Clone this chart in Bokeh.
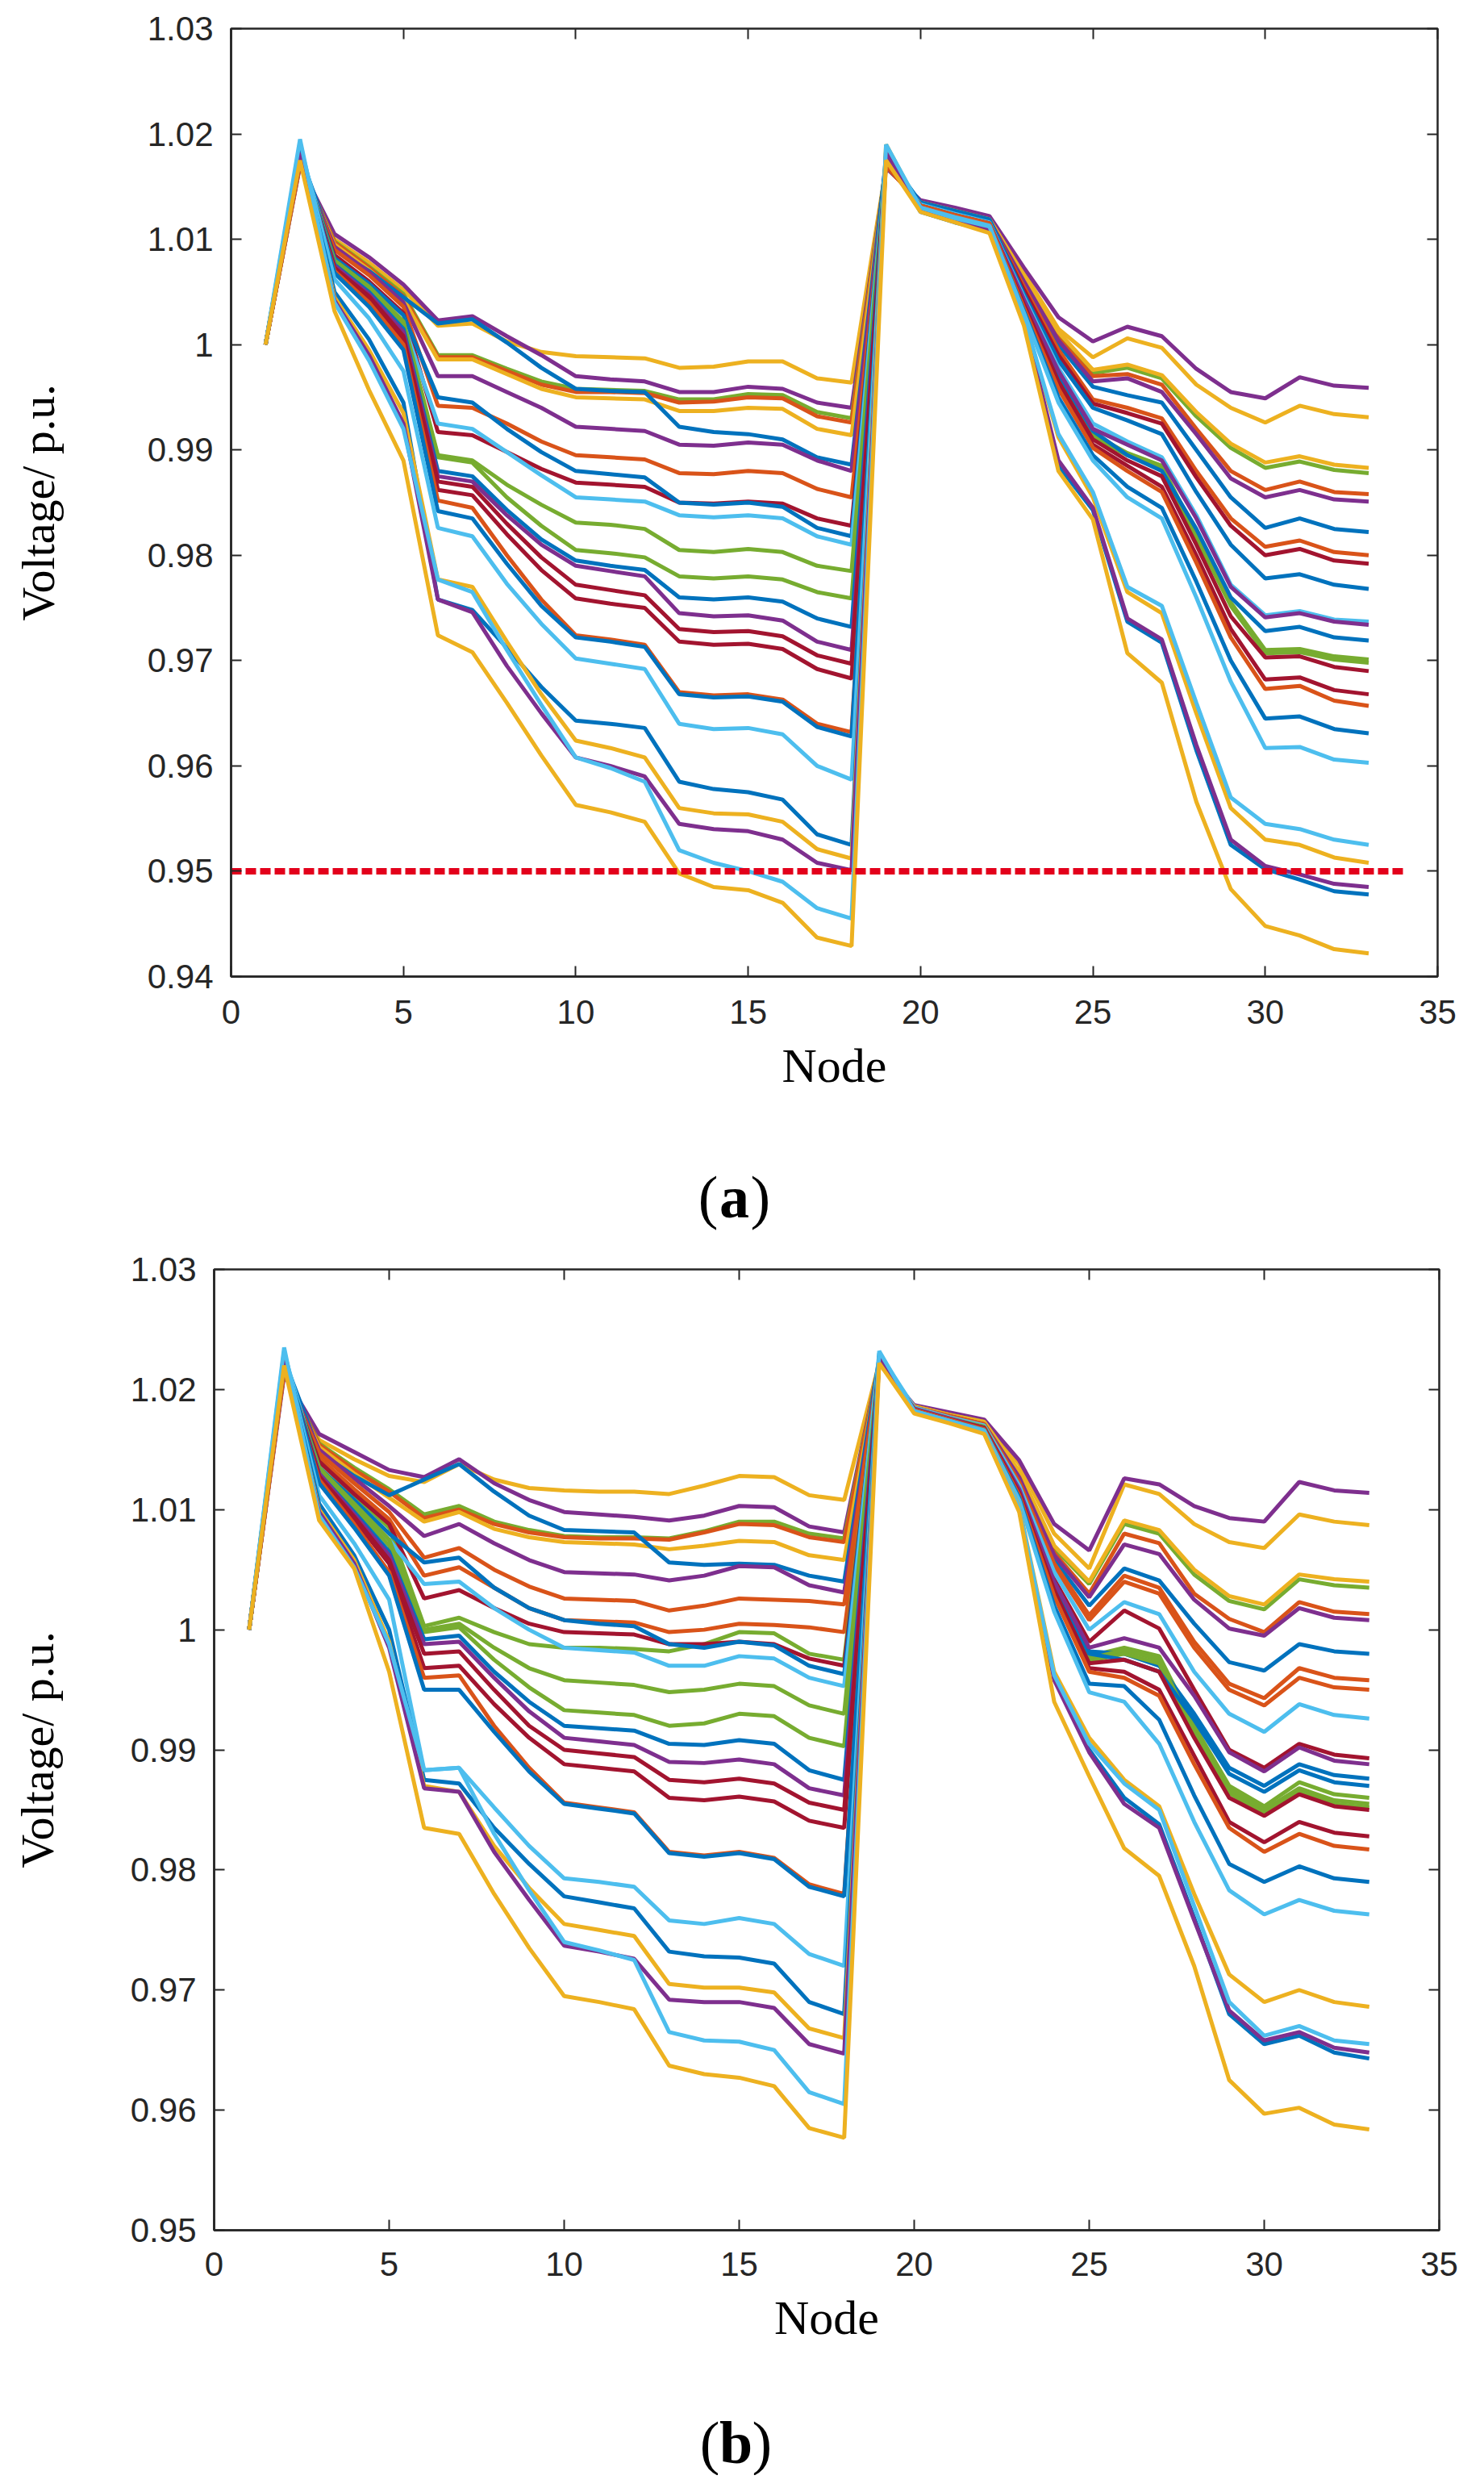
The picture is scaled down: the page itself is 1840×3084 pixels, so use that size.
from bokeh.core.properties import value
from bokeh.embed import file_html
from bokeh.layouts import column, row
from bokeh.models import (ColumnDataSource, CustomJSTickFormatter, FixedTicker,
                          LinearAxis, Range1d)
from bokeh.plotting import figure
from bokeh.resources import INLINE

# MATLAB default line colours
BLUE, ORANGE, YELLOW, PURPLE = "#0072BD", "#D95319", "#EDB120", "#7E2F8E"
GREEN, LIGHTBLUE, DARKRED = "#77AC30", "#4DBEEE", "#A2142F"
INK = "#262626"

nodes = list(range(1, 34))
x_ticks = [0, 5, 10, 15, 20, 25, 30, 35]
ya_ticks = [0.94, 0.95, 0.96, 0.97, 0.98, 0.99, 1.0, 1.01, 1.02, 1.03]
yb_ticks = [0.95, 0.96, 0.97, 0.98, 0.99, 1.0, 1.01, 1.02, 1.03]

# lower voltage limit drawn in panel (a)
limit_nodes = [0, 34]
limit_volts = [0.95, 0.95]

# ---- panel (a): node voltages, one list per scenario (nodes 1..33) ----
va01 = [1.0, 1.0170, 1.0100, 1.0078, 1.0052, 1.0018, 1.0020, 1.0003, 0.9993, 0.9989, 0.9988, 0.9987, 0.9978, 0.9979, 0.9984, 0.9984, 0.9968, 0.9964,
        1.0168, 1.0136, 1.0128, 1.0120, 1.0068, 1.0015, 0.9988, 1.0006, 0.9997, 0.9962, 0.9940, 0.9926, 0.9942, 0.9934, 0.9931]
va02 = [1.0, 1.0170, 1.0105, 1.0083, 1.0057, 1.0023, 1.0027, 1.0008, 0.9990, 0.9970, 0.9967, 0.9965, 0.9955, 0.9955, 0.9960, 0.9958, 0.9945, 0.9940,
        1.0168, 1.0137, 1.0130, 1.0122, 1.0073, 1.0026, 1.0003, 1.0017, 1.0008, 0.9977, 0.9955, 0.9949, 0.9969, 0.9961, 0.9959]
va03 = [1.0, 1.0172, 1.0098, 1.0074, 1.0048, 0.9990, 0.9990, 0.9977, 0.9965, 0.9958, 0.9957, 0.9956, 0.9948, 0.9948, 0.9953, 0.9952, 0.9936, 0.9930,
        1.0170, 1.0135, 1.0127, 1.0119, 1.0065, 1.0010, 0.9973, 0.9978, 0.9968, 0.9932, 0.9902, 0.9883, 0.9889, 0.9881, 0.9878]
va04 = [1.0, 1.0172, 1.0097, 1.0073, 1.0046, 0.9988, 0.9988, 0.9975, 0.9962, 0.9955, 0.9955, 0.9954, 0.9945, 0.9946, 0.9950, 0.9949, 0.9932, 0.9926,
        1.0170, 1.0134, 1.0126, 1.0118, 1.0062, 1.0006, 0.9970, 0.9972, 0.9962, 0.9920, 0.9880, 0.9862, 0.9870, 0.9860, 0.9858]
va05 = [1.0, 1.0172, 1.0095, 1.0071, 1.0043, 0.9986, 0.9986, 0.9972, 0.9958, 0.9950, 0.9949, 0.9948, 0.9937, 0.9937, 0.9940, 0.9939, 0.9920, 0.9914,
        1.0170, 1.0135, 1.0127, 1.0119, 1.0066, 1.0012, 0.9976, 0.9981, 0.9971, 0.9936, 0.9906, 0.9888, 0.9894, 0.9886, 0.9883]
va06 = [1.0, 1.0180, 1.0090, 1.0070, 1.0045, 1.0020, 1.0024, 1.0002, 0.9978, 0.9958, 0.9956, 0.9955, 0.9922, 0.9917, 0.9915, 0.9910, 0.9893, 0.9886,
        1.0175, 1.0132, 1.0124, 1.0116, 1.0058, 1.0000, 0.9960, 0.9952, 0.9945, 0.9900, 0.9855, 0.9826, 0.9835, 0.9825, 0.9822]
va07 = [1.0, 1.0172, 1.0093, 1.0069, 1.0040, 0.9970, 0.9970, 0.9955, 0.9940, 0.9922, 0.9920, 0.9918, 0.9905, 0.9904, 0.9907, 0.9905, 0.9890, 0.9880,
        1.0170, 1.0134, 1.0126, 1.0118, 1.0060, 1.0004, 0.9965, 0.9968, 0.9955, 0.9915, 0.9873, 0.9855, 0.9862, 0.9853, 0.9851]
va08 = [1.0, 1.0172, 1.0090, 1.0066, 1.0036, 0.9942, 0.9940, 0.9925, 0.9908, 0.9895, 0.9893, 0.9891, 0.9878, 0.9877, 0.9880, 0.9878, 0.9863, 0.9855,
        1.0170, 1.0133, 1.0125, 1.0117, 1.0055, 0.9995, 0.9948, 0.9940, 0.9930, 0.9880, 0.9835, 0.9808, 0.9814, 0.9803, 0.9800]
va09 = [1.0, 1.0175, 1.0085, 1.0060, 1.0030, 0.9917, 0.9914, 0.9898, 0.9882, 0.9869, 0.9867, 0.9865, 0.9850, 0.9849, 0.9851, 0.9849, 0.9835, 0.9828,
        1.0172, 1.0133, 1.0125, 1.0117, 1.0052, 0.9990, 0.9944, 0.9935, 0.9925, 0.9874, 0.9828, 0.9800, 0.9806, 0.9795, 0.9792]
va10 = [1.0, 1.0180, 1.0082, 1.0058, 1.0028, 0.9950, 0.9945, 0.9920, 0.9898, 0.9880, 0.9877, 0.9874, 0.9850, 0.9848, 0.9850, 0.9846, 0.9826, 0.9818,
        1.0180, 1.0135, 1.0127, 1.0119, 1.0048, 0.9985, 0.9940, 0.9928, 0.9915, 0.9860, 0.9810, 0.9778, 0.9782, 0.9772, 0.9768]
va11 = [1.0, 1.0185, 1.0075, 1.0050, 1.0020, 0.9925, 0.9920, 0.9898, 0.9876, 0.9855, 0.9853, 0.9851, 0.9838, 0.9836, 0.9838, 0.9835, 0.9818, 0.9810,
        1.0175, 1.0133, 1.0124, 1.0116, 1.0045, 0.9978, 0.9925, 0.9908, 0.9893, 0.9838, 0.9772, 0.9743, 0.9747, 0.9739, 0.9737]
va12 = [1.0, 1.0178, 1.0080, 1.0055, 1.0022, 0.9895, 0.9890, 0.9867, 0.9848, 0.9831, 0.9829, 0.9825, 0.9805, 0.9803, 0.9806, 0.9803, 0.9790, 0.9785,
        1.0175, 1.0132, 1.0123, 1.0115, 1.0040, 0.9970, 0.9915, 0.9897, 0.9885, 0.9820, 0.9755, 0.9710, 0.9711, 0.9704, 0.9701]
va13 = [1.0, 1.0178, 1.0078, 1.0052, 1.0018, 0.9893, 0.9888, 0.9855, 0.9828, 0.9805, 0.9802, 0.9798, 0.9780, 0.9778, 0.9780, 0.9777, 0.9765, 0.9759,
        1.0175, 1.0132, 1.0123, 1.0115, 1.0039, 0.9968, 0.9912, 0.9895, 0.9882, 0.9817, 0.9752, 0.9707, 0.9708, 0.9701, 0.9698]
va14 = [1.0, 1.0180, 1.0076, 1.0050, 1.0015, 0.9880, 0.9875, 0.9843, 0.9815, 0.9795, 0.9790, 0.9786, 0.9760, 0.9758, 0.9760, 0.9756, 0.9740, 0.9732,
        1.0178, 1.0131, 1.0122, 1.0114, 1.0042, 0.9972, 0.9918, 0.9895, 0.9880, 0.9825, 0.9760, 0.9728, 0.9732, 0.9722, 0.9719]
va15 = [1.0, 1.0178, 1.0075, 1.0048, 1.0012, 0.9875, 0.9870, 0.9838, 0.9810, 0.9790, 0.9785, 0.9780, 0.9745, 0.9742, 0.9743, 0.9738, 0.9718, 0.9710,
        1.0175, 1.0132, 1.0123, 1.0115, 1.0043, 0.9975, 0.9920, 0.9905, 0.9890, 0.9835, 0.9770, 0.9741, 0.9745, 0.9737, 0.9734]
va16 = [1.0, 1.0178, 1.0073, 1.0046, 1.0008, 0.9870, 0.9865, 0.9830, 0.9798, 0.9772, 0.9767, 0.9762, 0.9730, 0.9727, 0.9728, 0.9723, 0.9705, 0.9697,
        1.0175, 1.0131, 1.0122, 1.0114, 1.0038, 0.9965, 0.9910, 0.9890, 0.9875, 0.9810, 0.9742, 0.9703, 0.9704, 0.9694, 0.9690]
va17 = [1.0, 1.0178, 1.0072, 1.0044, 1.0005, 0.9862, 0.9857, 0.9820, 0.9786, 0.9759, 0.9754, 0.9750, 0.9718, 0.9715, 0.9716, 0.9711, 0.9692, 0.9683,
        1.0175, 1.0131, 1.0122, 1.0114, 1.0036, 0.9960, 0.9905, 0.9885, 0.9865, 0.9800, 0.9730, 0.9682, 0.9684, 0.9672, 0.9668]
va18 = [1.0, 1.0178, 1.0070, 1.0040, 1.0000, 0.9852, 0.9845, 0.9800, 0.9758, 0.9724, 0.9720, 0.9715, 0.9670, 0.9667, 0.9668, 0.9663, 0.9640, 0.9632,
        1.0172, 1.0132, 1.0123, 1.0115, 1.0035, 0.9958, 0.9902, 0.9880, 0.9860, 0.9793, 0.9722, 0.9673, 0.9676, 0.9662, 0.9657]
va19 = [1.0, 1.0183, 1.0068, 1.0036, 0.9995, 0.9842, 0.9835, 0.9792, 0.9752, 0.9722, 0.9718, 0.9713, 0.9668, 0.9665, 0.9666, 0.9661, 0.9637, 0.9628,
        1.0180, 1.0129, 1.0120, 1.0112, 1.0032, 0.9950, 0.9895, 0.9865, 0.9845, 0.9775, 0.9700, 0.9645, 0.9647, 0.9635, 0.9631]
va20 = [1.0, 1.0190, 1.0062, 1.0025, 0.9975, 0.9826, 0.9818, 0.9773, 0.9735, 0.9702, 0.9697, 0.9692, 0.9640, 0.9635, 0.9636, 0.9630, 0.9600, 0.9587,
        1.0185, 1.0130, 1.0121, 1.0113, 1.0030, 0.9945, 0.9890, 0.9855, 0.9835, 0.9760, 0.9680, 0.9617, 0.9618, 0.9606, 0.9603]
va21 = [1.0, 1.0185, 1.0050, 1.0005, 0.9945, 0.9758, 0.9748, 0.9712, 0.9675, 0.9643, 0.9640, 0.9636, 0.9585, 0.9578, 0.9575, 0.9568, 0.9535, 0.9525,
        1.0185, 1.0126, 1.0116, 1.0108, 1.0021, 0.9885, 0.9843, 0.9737, 0.9717, 0.9615, 0.9525, 0.9502, 0.9492, 0.9481, 0.9478]
va22 = [1.0, 1.0180, 1.0045, 0.9995, 0.9935, 0.9777, 0.9770, 0.9718, 0.9668, 0.9624, 0.9617, 0.9608, 0.9560, 0.9555, 0.9554, 0.9547, 0.9521, 0.9512,
        1.0190, 1.0129, 1.0119, 1.0111, 1.0025, 0.9912, 0.9855, 0.9765, 0.9745, 0.9650, 0.9560, 0.9530, 0.9525, 0.9513, 0.9508]
va23 = [1.0, 1.0182, 1.0042, 0.9990, 0.9925, 0.9758, 0.9746, 0.9695, 0.9650, 0.9608, 0.9600, 0.9590, 0.9545, 0.9540, 0.9538, 0.9530, 0.9508, 0.9501,
        1.0182, 1.0127, 1.0117, 1.0109, 1.0022, 0.9890, 0.9845, 0.9740, 0.9720, 0.9620, 0.9530, 0.9505, 0.9497, 0.9488, 0.9485]
va24 = [1.0, 1.0195, 1.0040, 0.9985, 0.9920, 0.9777, 0.9765, 0.9710, 0.9658, 0.9608, 0.9598, 0.9585, 0.9520, 0.9508, 0.9500, 0.9490, 0.9465, 0.9455,
        1.0190, 1.0130, 1.0120, 1.0112, 1.0026, 0.9915, 0.9860, 0.9770, 0.9752, 0.9660, 0.9570, 0.9545, 0.9540, 0.9530, 0.9525]
va25 = [1.0, 1.0175, 1.0032, 0.9957, 0.9890, 0.9724, 0.9708, 0.9660, 0.9610, 0.9563, 0.9556, 0.9547, 0.9498, 0.9485, 0.9482, 0.9470, 0.9437, 0.9429,
        1.0175, 1.0126, 1.0116, 1.0106, 1.0018, 0.9880, 0.9834, 0.9707, 0.9679, 0.9566, 0.9483, 0.9448, 0.9439, 0.9426, 0.9422]

colors_a = [YELLOW, PURPLE, GREEN, ORANGE, YELLOW, BLUE, PURPLE, ORANGE, DARKRED, BLUE,
            LIGHTBLUE, GREEN, GREEN, BLUE, PURPLE, DARKRED, DARKRED, ORANGE, BLUE, LIGHTBLUE,
            BLUE, YELLOW, PURPLE, LIGHTBLUE, YELLOW]

# ---- panel (b) ----
vb01 = [1.0, 1.0215, 1.0158, 1.0142, 1.0128, 1.0123, 1.0138, 1.0125, 1.0118, 1.0116, 1.0115, 1.0115, 1.0113, 1.0120, 1.0128, 1.0127, 1.0112, 1.0108,
        1.0222, 1.0186, 1.0180, 1.0174, 1.0138, 1.0080, 1.0051, 1.0121, 1.0113, 1.0088, 1.0073, 1.0068, 1.0096, 1.0090, 1.0087]
vb02 = [1.0, 1.0212, 1.0163, 1.0148, 1.0133, 1.0127, 1.0142, 1.0122, 1.0108, 1.0098, 1.0096, 1.0094, 1.0091, 1.0095, 1.0103, 1.0102, 1.0086, 1.0081,
        1.0222, 1.0187, 1.0181, 1.0175, 1.0141, 1.0088, 1.0066, 1.0126, 1.0121, 1.0103, 1.0093, 1.0090, 1.0123, 1.0116, 1.0114]
vb03 = [1.0, 1.0215, 1.0155, 1.0135, 1.0117, 1.0096, 1.0103, 1.0090, 1.0083, 1.0078, 1.0077, 1.0077, 1.0076, 1.0082, 1.0090, 1.0090, 1.0080, 1.0076,
        1.0222, 1.0186, 1.0179, 1.0173, 1.0131, 1.0068, 1.0038, 1.0088, 1.0080, 1.0046, 1.0024, 1.0017, 1.0042, 1.0037, 1.0035]
vb04 = [1.0, 1.0215, 1.0154, 1.0133, 1.0115, 1.0093, 1.0100, 1.0088, 1.0081, 1.0077, 1.0076, 1.0076, 1.0075, 1.0081, 1.0088, 1.0087, 1.0077, 1.0073,
        1.0222, 1.0186, 1.0179, 1.0172, 1.0128, 1.0064, 1.0030, 1.0080, 1.0072, 1.0030, 1.0009, 0.9998, 1.0023, 1.0015, 1.0013]
vb05 = [1.0, 1.0215, 1.0152, 1.0130, 1.0110, 1.0090, 1.0098, 1.0084, 1.0077, 1.0073, 1.0072, 1.0071, 1.0067, 1.0070, 1.0074, 1.0073, 1.0062, 1.0058,
        1.0222, 1.0186, 1.0179, 1.0173, 1.0132, 1.0070, 1.0040, 1.0091, 1.0083, 1.0050, 1.0028, 1.0021, 1.0046, 1.0042, 1.0040]
vb06 = [1.0, 1.0225, 1.0148, 1.0128, 1.0112, 1.0125, 1.0138, 1.0115, 1.0095, 1.0083, 1.0082, 1.0081, 1.0056, 1.0054, 1.0055, 1.0054, 1.0045, 1.0040,
        1.0226, 1.0184, 1.0177, 1.0170, 1.0125, 1.0058, 1.0020, 1.0051, 1.0041, 1.0005, 0.9973, 0.9966, 0.9988, 0.9982, 0.9980]
vb07 = [1.0, 1.0215, 1.0150, 1.0126, 1.0103, 1.0078, 1.0088, 1.0072, 1.0058, 1.0048, 1.0047, 1.0046, 1.0041, 1.0045, 1.0053, 1.0052, 1.0037, 1.0031,
        1.0222, 1.0185, 1.0178, 1.0171, 1.0127, 1.0062, 1.0027, 1.0071, 1.0063, 1.0025, 1.0001, 0.9995, 1.0018, 1.0010, 1.0008]
vb08 = [1.0, 1.0215, 1.0147, 1.0122, 1.0098, 1.0060, 1.0068, 1.0050, 1.0036, 1.0026, 1.0025, 1.0024, 1.0016, 1.0020, 1.0026, 1.0025, 1.0024, 1.0021,
        1.0222, 1.0185, 1.0178, 1.0171, 1.0123, 1.0055, 1.0012, 1.0045, 1.0035, 0.9990, 0.9955, 0.9943, 0.9968, 0.9960, 0.9958]
vb09 = [1.0, 1.0218, 1.0143, 1.0117, 1.0092, 1.0045, 1.0052, 1.0035, 1.0018, 1.0008, 1.0007, 1.0006, 0.9998, 1.0000, 1.0005, 1.0004, 1.0002, 0.9998,
        1.0222, 1.0185, 1.0177, 1.0170, 1.0122, 1.0053, 1.0008, 1.0040, 1.0030, 0.9985, 0.9950, 0.9937, 0.9960, 0.9952, 0.9950]
vb10 = [1.0, 1.0220, 1.0140, 1.0112, 1.0085, 1.0003, 1.0010, 0.9998, 0.9988, 0.9985, 0.9985, 0.9984, 0.9982, 0.9988, 0.9998, 0.9997, 0.9980, 0.9975,
        1.0224, 1.0184, 1.0176, 1.0169, 1.0115, 1.0036, 0.9978, 0.9985, 0.9978, 0.9920, 0.9870, 0.9853, 0.9873, 0.9863, 0.9860]
vb11 = [1.0, 1.0220, 1.0140, 1.0113, 1.0088, 1.0026, 1.0033, 1.0018, 1.0005, 0.9998, 0.9997, 0.9996, 0.9988, 0.9988, 0.9990, 0.9988, 0.9976, 0.9970,
        1.0224, 1.0184, 1.0176, 1.0169, 1.0118, 1.0042, 0.9990, 1.0016, 1.0001, 0.9950, 0.9900, 0.9885, 0.9905, 0.9896, 0.9893]
vb12 = [1.0, 1.0225, 1.0135, 1.0108, 1.0080, 1.0056, 1.0060, 1.0035, 1.0018, 1.0008, 1.0005, 1.0003, 0.9988, 0.9985, 0.9990, 0.9987, 0.9970, 0.9963,
        1.0226, 1.0183, 1.0176, 1.0168, 1.0116, 1.0038, 0.9982, 0.9980, 0.9970, 0.9930, 0.9885, 0.9870, 0.9888, 0.9879, 0.9876]
vb13 = [1.0, 1.0230, 1.0130, 1.0103, 1.0075, 1.0038, 1.0040, 1.0018, 1.0000, 0.9985, 0.9983, 0.9981, 0.9970, 0.9970, 0.9978, 0.9976, 0.9960, 0.9953,
        1.0230, 1.0185, 1.0177, 1.0170, 1.0120, 1.0048, 1.0000, 1.0023, 1.0013, 0.9965, 0.9930, 0.9915, 0.9938, 0.9929, 0.9926]
vb14 = [1.0, 1.0222, 1.0135, 1.0105, 1.0075, 1.0000, 1.0005, 0.9985, 0.9968, 0.9958, 0.9956, 0.9954, 0.9948, 0.9950, 0.9955, 0.9953, 0.9937, 0.9930,
        1.0224, 1.0184, 1.0176, 1.0169, 1.0115, 1.0035, 0.9976, 0.9983, 0.9975, 0.9917, 0.9867, 0.9850, 0.9868, 0.9858, 0.9855]
vb15 = [1.0, 1.0222, 1.0133, 1.0102, 1.0070, 0.9998, 1.0002, 0.9975, 0.9952, 0.9933, 0.9931, 0.9929, 0.9920, 0.9922, 0.9930, 0.9928, 0.9910, 0.9903,
        1.0224, 1.0184, 1.0176, 1.0168, 1.0114, 1.0034, 0.9974, 0.9980, 0.9972, 0.9914, 0.9864, 0.9847, 0.9865, 0.9855, 0.9852]
vb16 = [1.0, 1.0225, 1.0130, 1.0098, 1.0065, 0.9992, 0.9995, 0.9965, 0.9940, 0.9920, 0.9918, 0.9916, 0.9905, 0.9904, 0.9908, 0.9905, 0.9883, 0.9875,
        1.0226, 1.0183, 1.0175, 1.0168, 1.0116, 1.0037, 0.9980, 0.9975, 0.9965, 0.9925, 0.9880, 0.9865, 0.9883, 0.9873, 0.9870]
vb17 = [1.0, 1.0222, 1.0130, 1.0096, 1.0062, 0.9988, 0.9990, 0.9960, 0.9932, 0.9910, 0.9907, 0.9904, 0.9890, 0.9889, 0.9892, 0.9888, 0.9868, 0.9862,
        1.0224, 1.0184, 1.0176, 1.0168, 1.0117, 1.0040, 0.9985, 0.9993, 0.9985, 0.9945, 0.9898, 0.9882, 0.9902, 0.9891, 0.9888]
vb18 = [1.0, 1.0222, 1.0128, 1.0094, 1.0058, 0.9980, 0.9982, 0.9950, 0.9920, 0.9900, 0.9897, 0.9894, 0.9875, 0.9873, 0.9876, 0.9872, 0.9856, 0.9850,
        1.0224, 1.0183, 1.0175, 1.0168, 1.0114, 1.0033, 0.9972, 0.9975, 0.9965, 0.9910, 0.9860, 0.9845, 0.9863, 0.9853, 0.9850]
vb19 = [1.0, 1.0222, 1.0127, 1.0092, 1.0055, 0.9968, 0.9970, 0.9938, 0.9910, 0.9888, 0.9885, 0.9882, 0.9860, 0.9858, 0.9861, 0.9857, 0.9841, 0.9835,
        1.0224, 1.0183, 1.0175, 1.0167, 1.0113, 1.0030, 0.9968, 0.9965, 0.9950, 0.9895, 0.9840, 0.9823, 0.9840, 0.9831, 0.9828]
vb20 = [1.0, 1.0222, 1.0125, 1.0088, 1.0048, 0.9960, 0.9962, 0.9920, 0.9885, 0.9856, 0.9852, 0.9848, 0.9815, 0.9812, 0.9815, 0.9810, 0.9788, 0.9780,
        1.0224, 1.0183, 1.0175, 1.0167, 1.0112, 1.0028, 0.9965, 0.9960, 0.9945, 0.9888, 0.9835, 0.9815, 0.9830, 0.9820, 0.9817]
vb21 = [1.0, 1.0228, 1.0122, 1.0085, 1.0045, 0.9950, 0.9950, 0.9915, 0.9882, 0.9855, 0.9851, 0.9847, 0.9814, 0.9811, 0.9814, 0.9809, 0.9786, 0.9778,
        1.0228, 1.0182, 1.0174, 1.0166, 1.0110, 1.0020, 0.9955, 0.9953, 0.9925, 0.9862, 0.9805, 0.9790, 0.9803, 0.9793, 0.9790]
vb22 = [1.0, 1.0232, 1.0112, 1.0072, 1.0025, 0.9883, 0.9885, 0.9852, 0.9820, 0.9793, 0.9790, 0.9786, 0.9758, 0.9755, 0.9760, 0.9755, 0.9730, 0.9720,
        1.0230, 1.0182, 1.0174, 1.0166, 1.0108, 1.0015, 0.9948, 0.9940, 0.9905, 0.9840, 0.9783, 0.9763, 0.9775, 0.9766, 0.9763]
vb23 = [1.0, 1.0228, 1.0105, 1.0062, 1.0000, 0.9875, 0.9872, 0.9835, 0.9805, 0.9778, 0.9773, 0.9768, 0.9732, 0.9728, 0.9727, 0.9722, 0.9690, 0.9680,
        1.0228, 1.0181, 1.0173, 1.0164, 1.0100, 0.9960, 0.9900, 0.9860, 0.9838, 0.9760, 0.9680, 0.9655, 0.9662, 0.9648, 0.9643]
vb24 = [1.0, 1.0225, 1.0100, 1.0058, 0.9990, 0.9870, 0.9865, 0.9820, 0.9785, 0.9755, 0.9750, 0.9745, 0.9705, 0.9702, 0.9702, 0.9698, 0.9668, 0.9660,
        1.0226, 1.0181, 1.0173, 1.0165, 1.0102, 0.9965, 0.9910, 0.9875, 0.9853, 0.9780, 0.9713, 0.9690, 0.9700, 0.9690, 0.9686]
vb25 = [1.0, 1.0225, 1.0098, 1.0055, 0.9985, 0.9868, 0.9865, 0.9815, 0.9775, 0.9737, 0.9732, 0.9726, 0.9692, 0.9690, 0.9690, 0.9685, 0.9655, 0.9647,
        1.0226, 1.0181, 1.0173, 1.0164, 1.0100, 0.9958, 0.9898, 0.9855, 0.9835, 0.9758, 0.9683, 0.9658, 0.9665, 0.9652, 0.9648]
vb26 = [1.0, 1.0235, 1.0095, 1.0052, 0.9988, 0.9883, 0.9885, 0.9830, 0.9783, 0.9740, 0.9733, 0.9725, 0.9665, 0.9658, 0.9657, 0.9650, 0.9615, 0.9605,
        1.0232, 1.0182, 1.0174, 1.0165, 1.0101, 0.9962, 0.9905, 0.9872, 0.9850, 0.9770, 0.9690, 0.9662, 0.9670, 0.9658, 0.9655]
vb27 = [1.0, 1.0220, 1.0091, 1.0051, 0.9965, 0.9835, 0.9830, 0.9780, 0.9735, 0.9695, 0.9690, 0.9684, 0.9637, 0.9630, 0.9627, 0.9620, 0.9585, 0.9577,
        1.0222, 1.0180, 1.0172, 1.0163, 1.0098, 0.9940, 0.9878, 0.9818, 0.9795, 0.9720, 0.9625, 0.9597, 0.9602, 0.9588, 0.9584]

colors_b = [YELLOW, PURPLE, GREEN, ORANGE, YELLOW, BLUE, PURPLE, ORANGE, ORANGE, GREEN,
            DARKRED, BLUE, LIGHTBLUE, GREEN, GREEN, BLUE, PURPLE, DARKRED, DARKRED, ORANGE,
            BLUE, LIGHTBLUE, BLUE, YELLOW, PURPLE, LIGHTBLUE, YELLOW]

series_a = [va01, va02, va03, va04, va05, va06, va07, va08, va09, va10, va11, va12, va13,
            va14, va15, va16, va17, va18, va19, va20, va21, va22, va23, va24, va25]
series_b = [vb01, vb02, vb03, vb04, vb05, vb06, vb07, vb08, vb09, vb10, vb11, vb12, vb13, vb14,
            vb15, vb16, vb17, vb18, vb19, vb20, vb21, vb22, vb23, vb24, vb25, vb26, vb27]

tick_fmt = "return String(Number(tick.toFixed(2)));"


def make_panel(series, colors, y_lo, y_ticks, height, left, right, top, bottom,
               tick_standoff, node_standoff, y_label_standoff):
    p = figure(width=1824, height=height, x_range=Range1d(0, 35), y_range=Range1d(y_lo, 1.03),
               output_backend="svg", toolbar_location=None,
               min_border_left=left, min_border_right=right,
               min_border_top=top, min_border_bottom=bottom)
    p.background_fill_color = "white"
    p.border_fill_color = "white"
    p.grid.visible = False
    p.outline_line_color = INK
    p.outline_line_width = 2.5
    p.outline_line_alpha = 1.0

    p.xaxis.ticker = FixedTicker(ticks=x_ticks)
    p.yaxis.ticker = FixedTicker(ticks=y_ticks)
    p.xaxis.formatter = CustomJSTickFormatter(code=tick_fmt)
    p.yaxis.formatter = CustomJSTickFormatter(code=tick_fmt)
    for ax in (p.xaxis[0], p.yaxis[0]):
        ax.major_tick_in = 13
        ax.major_tick_out = 0
        ax.major_tick_line_width = 2
        ax.major_tick_line_color = INK
        ax.minor_tick_line_color = None
        ax.axis_line_width = 2.5
        ax.axis_line_color = INK
        ax.major_label_text_font = "Liberation Sans"
        ax.major_label_text_font_size = "42px"
        ax.major_label_text_color = INK
        ax.axis_label_text_font = "Liberation Serif"
        ax.axis_label_text_font_style = "normal"
        ax.axis_label_text_color = "black"
    p.xaxis.major_label_standoff = tick_standoff
    p.yaxis.major_label_standoff = 22
    p.xaxis.axis_label = "Node"
    p.xaxis.axis_label_text_font_size = "60px"
    p.xaxis.axis_label_standoff = node_standoff
    p.yaxis.axis_label = "Voltage/ p.u."
    p.yaxis.axis_label_text_font_size = "58px"
    p.yaxis.axis_label_standoff = y_label_standoff

    # box ticks on the top and right sides, as in MATLAB
    for ticks, side in ((x_ticks, "above"), (y_ticks, "right")):
        ax = LinearAxis(ticker=FixedTicker(ticks=ticks),
                        formatter=CustomJSTickFormatter(code="return '';"),
                        major_tick_in=13, major_tick_out=0, major_tick_line_width=2,
                        major_tick_line_color=INK, minor_tick_line_color=None,
                        axis_line_color=None, major_label_standoff=0)
        p.add_layout(ax, side)

    src = ColumnDataSource(dict(xs=[nodes] * len(series), ys=series, color=colors))
    p.multi_line("xs", "ys", source=src, line_color="color", line_width=5)
    return p


def caption(letter, height, x, base):
    # a plain strip under a panel holding "(a)" / "(b)" with a bold letter
    c = figure(width=1824, height=height, x_range=Range1d(0, 1824), y_range=Range1d(0, height),
               output_backend="svg", toolbar_location=None, min_border=0,
               x_axis_type=None, y_axis_type=None)
    c.outline_line_color = None
    c.background_fill_color = "white"
    c.border_fill_color = "white"
    font = dict(text_font=value("Liberation Serif"), text_font_size="74px",
                text_color="black", text_baseline="alphabetic")
    c.text(x=[x], y=[base], text=["("], text_align="right", x_offset=-20, **font)
    c.text(x=[x], y=[base], text=[letter], text_align="center", text_font_style="bold", **font)
    c.text(x=[x], y=[base], text=[")"], text_align="left", x_offset=20, **font)
    return c


pa = make_panel(series_a, colors_a, 0.94, ya_ticks, 1392, 286, 42, 35, 182, 29, 16, 100)
pa.line(limit_nodes, limit_volts, line_color="#E3001B", line_width=8, line_dash="13 5")
cap_a = caption("a", 148, 910, 57)

pb = make_panel(series_b, colors_b, 0.95, yb_ticks, 1402, 265, 40, 33, 178, 27, 16, 80)
cap_b = caption("b", 126, 912, 41)

# each panel sits in its own row so the two plot frames are not aligned to each other
layout = column(row(pa), cap_a, row(pb), cap_b, spacing=0)
open("out.html", "w").write(file_html(layout, INLINE))
